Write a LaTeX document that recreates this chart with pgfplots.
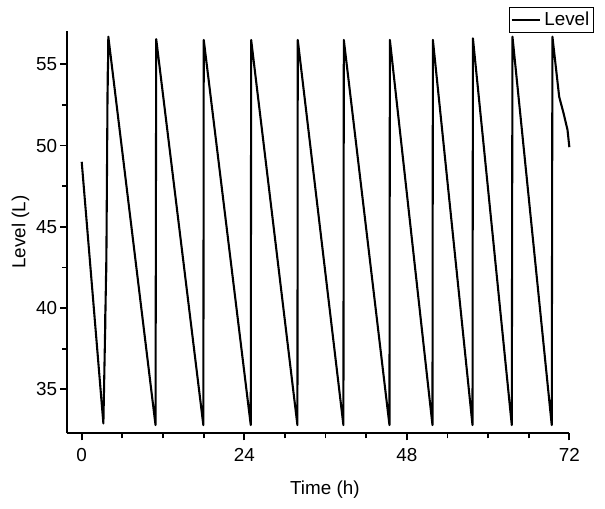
\documentclass[border=0pt]{standalone}
\usepackage{pgfplots}
\pgfplotsset{compat=1.18}
\usepackage{fontspec}
\setmainfont{Liberation Sans}

\begin{document}
\begin{tikzpicture}
\fontsize{11.3}{13.5}\selectfont
\begin{axis}[
  scale only axis,
  width=301.2pt,
  height=241.4pt,
  xmin=-2.13, xmax=72,
  ymin=32.29, ymax=57.05,
  axis x line*=bottom,
  axis y line*=left,
  axis line style={line width=1.2pt},
  tick align=outside,
  major tick length=4.2pt,
  minor tick length=3pt,
  every tick/.style={black, line width=1.1pt},
  xtick={0,24,48,72},
  minor x tick num=3,
  ytick={35,40,45,50,55},
  minor y tick num=1,
  /pgf/number format/assume math mode=true,
  tick label style={font=\fontsize{11.3}{13.5}\selectfont},
  xticklabel style={yshift=-1pt},
  yticklabel style={xshift=2pt},
  xlabel={Time (h)},
  ylabel={Level (L)},
  xlabel style={at={(axis description cs:0.513,-0.141)}, anchor=center},
  ylabel style={at={(axis description cs:-0.093,0.5)}, anchor=center, rotate=0},
  label style={font=\fontsize{11.3}{13.5}\selectfont},
  legend style={at={(1.05,0.994)}, anchor=south east, draw=black,
    line width=0.9pt, inner sep=0.6pt, font=\fontsize{11.3}{13.5}\selectfont,
    legend cell align=left},
  legend image code/.code={\draw[#1, line width=1.2pt] (0cm,0cm) -- (0.6cm,0cm);},
  clip=false,
]
\addplot[black, line width=1.25pt, line join=round] coordinates {
  (0,49.0) (3.2,32.9)
  (3.44,38.2) (3.5,40.2) (3.46,38.4) (3.52,40.2)
  (3.58,41.6) (3.62,42.8) (3.6,41.7) (3.64,42.8)
  (3.82,53.6) (3.86,54.8) (3.84,53.7) (3.88,54.8)
  (3.93,56.7)
  (10.9,32.8) (11.0,56.55)
  (17.96,32.8) (18.02,56.5)
  (24.96,32.8) (25.02,56.5)
  (31.85,32.8) (31.9,56.5)
  (38.64,32.8) (38.7,56.5)
  (45.44,32.8) (45.5,56.5)
  (51.79,32.8) (51.85,56.5)
  (57.7,32.8) (57.76,56.6)
  (63.5,32.8) (63.6,56.7)
  (69.4,32.8) (69.5,56.7)
  (70.5,53.0) (71.15,51.98) (71.73,50.96) (72.0,49.9)
};
\addlegendentry{Level}
\path (rel axis cs:-0.134,-0.1857) rectangle (rel axis cs:1.071,1.077);
\end{axis}
\end{tikzpicture}
\end{document}
